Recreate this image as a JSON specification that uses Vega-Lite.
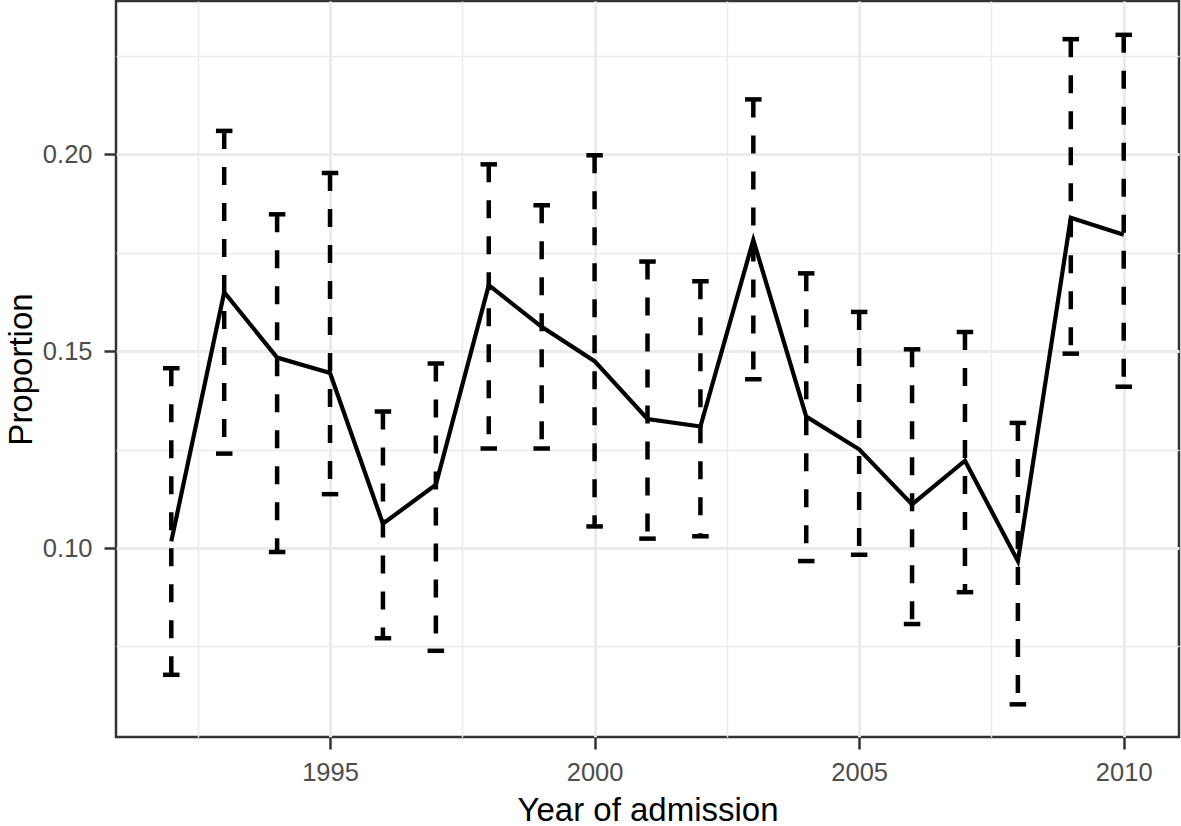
{
  "$schema": "https://vega.github.io/schema/vega-lite/v6.json",
  "width": 1063,
  "height": 736,
  "autosize": "none",
  "padding": {"left": 116, "top": 1, "right": 2, "bottom": 89},
  "background": "white",
  "config": {
    "view": {"stroke": "#333333", "strokeWidth": 2.5},
    "font": "Liberation Sans"
  },
  "data": {
    "values": [
      {"year": 1992, "prop": 0.1017, "upper": 0.1457, "lower": 0.0678},
      {"year": 1993, "prop": 0.1650, "upper": 0.2060, "lower": 0.1240},
      {"year": 1994, "prop": 0.1484, "upper": 0.1848, "lower": 0.0990},
      {"year": 1995, "prop": 0.1445, "upper": 0.1953, "lower": 0.1137},
      {"year": 1996, "prop": 0.1062, "upper": 0.1347, "lower": 0.0771},
      {"year": 1997, "prop": 0.1161, "upper": 0.1469, "lower": 0.0739},
      {"year": 1998, "prop": 0.1668, "upper": 0.1975, "lower": 0.1253},
      {"year": 1999, "prop": 0.1562, "upper": 0.1871, "lower": 0.1253},
      {"year": 2000, "prop": 0.1475, "upper": 0.1998, "lower": 0.1055},
      {"year": 2001, "prop": 0.1328, "upper": 0.1728, "lower": 0.1024},
      {"year": 2002, "prop": 0.1309, "upper": 0.1678, "lower": 0.1030},
      {"year": 2003, "prop": 0.1783, "upper": 0.2140, "lower": 0.1429},
      {"year": 2004, "prop": 0.1334, "upper": 0.1698, "lower": 0.0967},
      {"year": 2005, "prop": 0.1251, "upper": 0.1600, "lower": 0.0983},
      {"year": 2006, "prop": 0.1111, "upper": 0.1505, "lower": 0.0807},
      {"year": 2007, "prop": 0.1222, "upper": 0.1549, "lower": 0.0888},
      {"year": 2008, "prop": 0.0967, "upper": 0.1318, "lower": 0.0603},
      {"year": 2009, "prop": 0.1839, "upper": 0.2293, "lower": 0.1494},
      {"year": 2010, "prop": 0.1796, "upper": 0.2304, "lower": 0.1410}
    ]
  },
  "encoding": {
    "x": {
      "field": "year",
      "type": "quantitative",
      "title": "Year of admission",
      "scale": {"domain": [1990.955, 2011.045], "nice": false, "zero": false},
      "axis": {
        "values": [1992.5, 1995, 1997.5, 2000, 2002.5, 2005, 2007.5, 2010],
        "domain": false,
        "labelExpr": "datum.value % 5 === 0 ? format(datum.value, 'd') : ''",
        "labelFont": "Liberation Sans",
        "labelFontSize": 25.5,
        "labelColor": "#4D4D4D",
        "labelBaseline": "alphabetic",
        "labelPadding": 31,
        "labelFlush": false,
        "labelOverlap": false,
        "labelBound": false,
        "tickSize": 12,
        "tickWidth": 2.5,
        "tickColor": "#333333",
        "tickOpacity": {"condition": {"test": "datum.value % 5 === 0", "value": 1}, "value": 0},
        "gridColor": "#EBEBEB",
        "gridWidth": {"condition": {"test": "datum.value % 5 === 0", "value": 3}, "value": 1.5},
        "titleFont": "Liberation Sans",
        "titleFontSize": 33,
        "titleFontWeight": "normal",
        "titleColor": "black",
        "titleBaseline": "alphabetic",
        "titleY": 83
      }
    }
  },
  "layer": [
    {
      "mark": {"type": "rule", "color": "black", "strokeWidth": 4.5, "strokeDash": [18, 18], "strokeCap": "butt"},
      "encoding": {
        "y": {
          "field": "upper",
          "type": "quantitative",
          "title": "Proportion",
          "scale": {"domain": [0.052, 0.239], "nice": false, "zero": false},
          "axis": {
            "values": [0.075, 0.1, 0.125, 0.15, 0.175, 0.2, 0.225],
            "domain": false,
            "labelExpr": "abs(datum.value * 20 - round(datum.value * 20)) < 0.001 ? format(datum.value, '.2f') : ''",
            "labelFont": "Liberation Sans",
            "labelFontSize": 25.5,
            "labelColor": "#4D4D4D",
            "labelPadding": 12,
            "labelOverlap": false,
            "labelBound": false,
            "labelFlush": false,
            "tickSize": 12,
            "tickWidth": 2.5,
            "tickColor": "#333333",
            "tickOpacity": {"condition": {"test": "abs(datum.value * 20 - round(datum.value * 20)) < 0.001", "value": 1}, "value": 0},
            "gridColor": "#EBEBEB",
            "gridWidth": {"condition": {"test": "abs(datum.value * 20 - round(datum.value * 20)) < 0.001", "value": 3}, "value": 1.5},
            "titleFont": "Liberation Sans",
            "titleFontSize": 33,
            "titleFontWeight": "normal",
            "titleColor": "black",
            "titleAngle": -90,
            "titleBaseline": "alphabetic",
            "titleX": -85,
            "titleY": 368
          }
        },
        "y2": {"field": "lower"}
      }
    },
    {
      "mark": {"type": "tick", "orient": "horizontal", "color": "black", "opacity": 1, "size": 16.5, "thickness": 4.5},
      "encoding": {
        "y": {
          "field": "upper",
          "type": "quantitative",
          "title": "Proportion",
          "scale": {"domain": [0.052, 0.239], "nice": false, "zero": false}
        }
      }
    },
    {
      "mark": {"type": "tick", "orient": "horizontal", "color": "black", "opacity": 1, "size": 16.5, "thickness": 4.5},
      "encoding": {
        "y": {
          "field": "lower",
          "type": "quantitative",
          "title": "Proportion",
          "scale": {"domain": [0.052, 0.239], "nice": false, "zero": false}
        }
      }
    },
    {
      "mark": {"type": "line", "color": "black", "strokeWidth": 4.2},
      "encoding": {
        "y": {
          "field": "prop",
          "type": "quantitative",
          "title": "Proportion",
          "scale": {"domain": [0.052, 0.239], "nice": false, "zero": false}
        }
      }
    }
  ]
}
